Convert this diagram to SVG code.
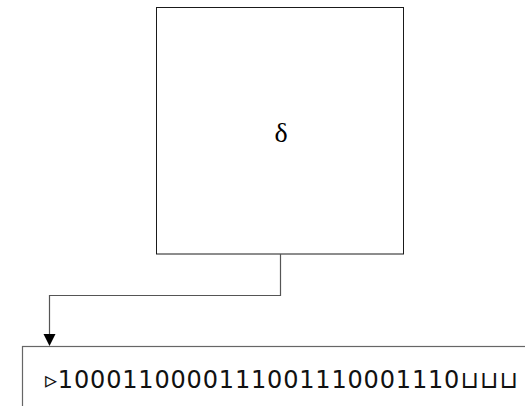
<svg xmlns="http://www.w3.org/2000/svg" width="525" height="406" viewBox="0 0 525 406">
  <style>
    .box { fill: #ffffff; stroke: #1a1a1a; stroke-width: 1; }
    .tape { fill: #ffffff; stroke: #666666; stroke-width: 1.2; }
    .wire { fill: none; stroke: #555555; stroke-width: 1.2; }
    .tip { fill: #000000; }
    .sym { font-family: "Liberation Serif", serif; font-size: 28px; fill: #000000; }
    .cells { font-family: "DejaVu Sans", sans-serif; font-size: 24px; fill: #111111; }
  </style>

  <!-- transition function block -->
  <g id="delta">
    <rect class="box" x="156.5" y="7.5" width="247" height="246.5"/>
    <text class="sym" x="281" y="142" text-anchor="middle">δ</text>
  </g>

  <!-- tape with its contents -->
  <g id="tape">
    <rect class="tape" x="22.5" y="346.5" width="520" height="80"/>
    <text class="cells" x="45" y="388" textLength="473" lengthAdjust="spacing">▹1000110000111001110001110⊔⊔⊔</text>
  </g>

  <!-- head connector -->
  <g id="connectors">
    <path class="wire" d="M280.5,254 V295.5 H49.5 V336"/>
    <path class="tip" d="M43.5,334 L55.5,334 L49.5,346 Z"/>
  </g>
</svg>
